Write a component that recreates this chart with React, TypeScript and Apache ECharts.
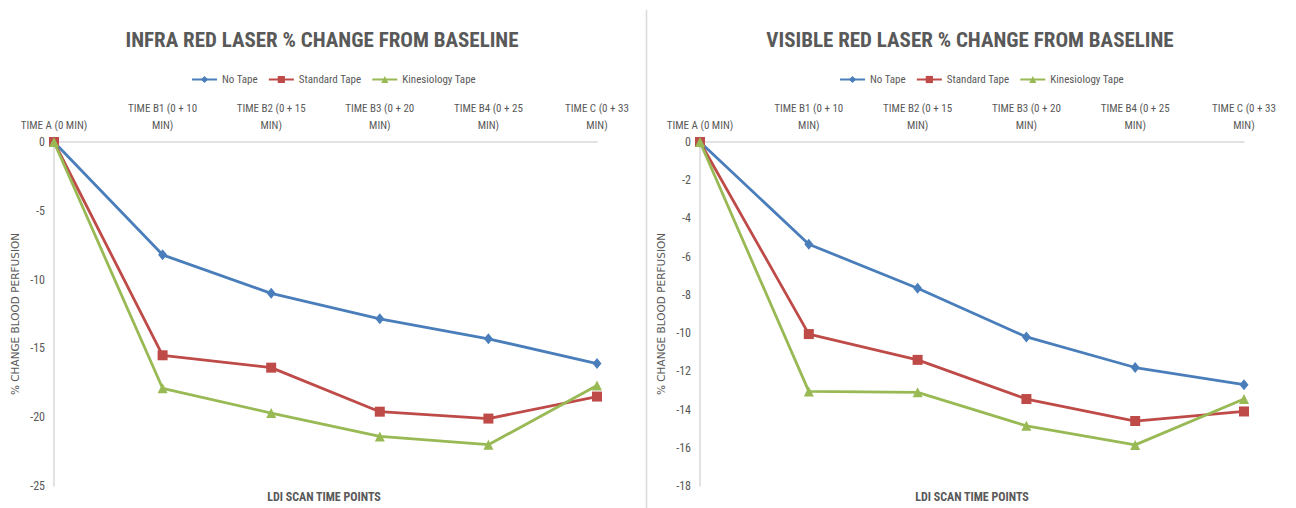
import React, { useEffect, useRef } from "react";
import * as echarts from "echarts";

const categories = [
  "TIME A (0 MIN)",
  "TIME B1 (0 + 10\nMIN)",
  "TIME B2 (0 + 15\nMIN)",
  "TIME B3 (0 + 20\nMIN)",
  "TIME B4 (0 + 25\nMIN)",
  "TIME C (0 + 33\nMIN)",
];

const seriesNames = ["No Tape", "Standard Tape", "Kinesiology Tape"];

const infraNoTape = [0, -8.2, -11.0, -12.85, -14.3, -16.1];
const infraStandard = [0, -15.5, -16.4, -19.6, -20.1, -18.5];
const infraKinesio = [0, -17.9, -19.7, -21.4, -22.0, -17.7];

const visibleNoTape = [0, -5.35, -7.65, -10.2, -11.8, -12.7];
const visibleStandard = [0, -10.05, -11.4, -13.45, -14.6, -14.1];
const visibleKinesio = [0, -13.05, -13.1, -14.85, -15.85, -13.45];

const titles = [
  "INFRA RED LASER % CHANGE FROM BASELINE",
  "VISIBLE RED LASER % CHANGE FROM BASELINE",
];
const yAxisName = "% CHANGE BLOOD PERFUSION";
const xAxisName = "LDI SCAN TIME POINTS";

const COLORS = ["#4A7EBB", "#BE4B48", "#98B954"];
const SYMBOLS = ["diamond", "rect", "triangle"];
const SYMBOL_SIZES: any[] = [[9, 11], 10, 10];
const TEXT = "#595959";
const AXIS = "#D9D9D9";
const FONT = "'Liberation Sans Narrow', 'Roboto Condensed', 'Open Sans', sans-serif";

function makeSeries(data: number[], idx: number, gridIdx: number) {
  return {
    name: seriesNames[idx],
    type: "line",
    xAxisIndex: gridIdx,
    yAxisIndex: gridIdx,
    data,
    symbol: SYMBOLS[idx],
    symbolSize: SYMBOL_SIZES[idx],
    showAllSymbol: true,
    lineStyle: { color: COLORS[idx], width: 2.8 },
    itemStyle: { color: COLORS[idx] },
    emphasis: { disabled: true },
  };
}

function makeXAxis(gridIndex: number) {
  return {
    type: "category",
    gridIndex,
    position: "top",
    boundaryGap: false,
    data: categories,
    axisLine: { show: true, lineStyle: { color: AXIS, width: 1.5 } },
    axisTick: { show: false },
    axisLabel: {
      color: TEXT,
      fontFamily: FONT,
      fontSize: 11,
      margin: 8,
      lineHeight: 17,
      interval: 0,
    },
    splitLine: { show: false },
  };
}

function makeYAxis(gridIndex: number, min: number, interval: number) {
  return {
    type: "value",
    gridIndex,
    min,
    max: 0,
    interval,
    axisLine: { show: true, lineStyle: { color: AXIS, width: 1.5 } },
    axisTick: { show: false },
    splitLine: { show: false },
    axisLabel: { color: TEXT, fontFamily: FONT, fontSize: 12, margin: 9 },
    name: yAxisName,
    nameLocation: "middle",
    nameGap: 34,
    nameTextStyle: {
      color: TEXT,
      fontFamily: "'DejaVu Sans', sans-serif",
      fontSize: 10.5,
    },
  };
}

const legendCommon = {
  data: seriesNames,
  top: 69,
  itemWidth: 25,
  itemHeight: 9,
  itemGap: 10,
  textStyle: { color: TEXT, fontFamily: FONT, fontSize: 11 },
  selectedMode: false,
};

function textEl(text: string, x: number, y: number, size: number, weight: string) {
  return {
    type: "text",
    x,
    y,
    style: {
      text,
      align: "center",
      verticalAlign: "middle",
      fill: TEXT,
      font: `${weight} ${size}px ${FONT}`,
    },
    silent: true,
  };
}

const option: any = {
  animation: false,
  backgroundColor: "#ffffff",
  grid: [
    { left: 54, top: 142, width: 543, height: 344 },
    { left: 700, top: 142, width: 544, height: 344 },
  ],
  legend: [
    { ...legendCommon, left: 186 },
    { ...legendCommon, left: 834 },
  ],
  xAxis: [makeXAxis(0), makeXAxis(1)],
  yAxis: [makeYAxis(0, -25, 5), makeYAxis(1, -18, 2)],
  series: [
    makeSeries(infraNoTape, 0, 0),
    makeSeries(infraStandard, 1, 0),
    makeSeries(infraKinesio, 2, 0),
    makeSeries(visibleNoTape, 0, 1),
    makeSeries(visibleStandard, 1, 1),
    makeSeries(visibleKinesio, 2, 1),
  ],
  graphic: [
    textEl(titles[0], 322, 40, 21, "bold"),
    textEl(titles[1], 970, 40, 21, "bold"),
    textEl(xAxisName, 324, 497, 12, "bold"),
    textEl(xAxisName, 972, 497, 12, "bold"),
    {
      type: "line",
      shape: { x1: 646.5, y1: 10, x2: 646.5, y2: 508 },
      style: { stroke: AXIS, lineWidth: 1.5 },
      silent: true,
    },
  ],
};

export default function App() {
  const ref = useRef<HTMLDivElement>(null);
  useEffect(() => {
    if (!ref.current) return;
    const chart = echarts.init(ref.current, undefined, { renderer: "svg" });
    chart.setOption(option);
    return () => chart.dispose();
  }, []);
  return (
    <div
      ref={ref}
      style={{
        position: "absolute",
        left: 0,
        top: 0,
        width: 1296,
        height: 508,
        background: "#fff",
      }}
    />
  );
}
